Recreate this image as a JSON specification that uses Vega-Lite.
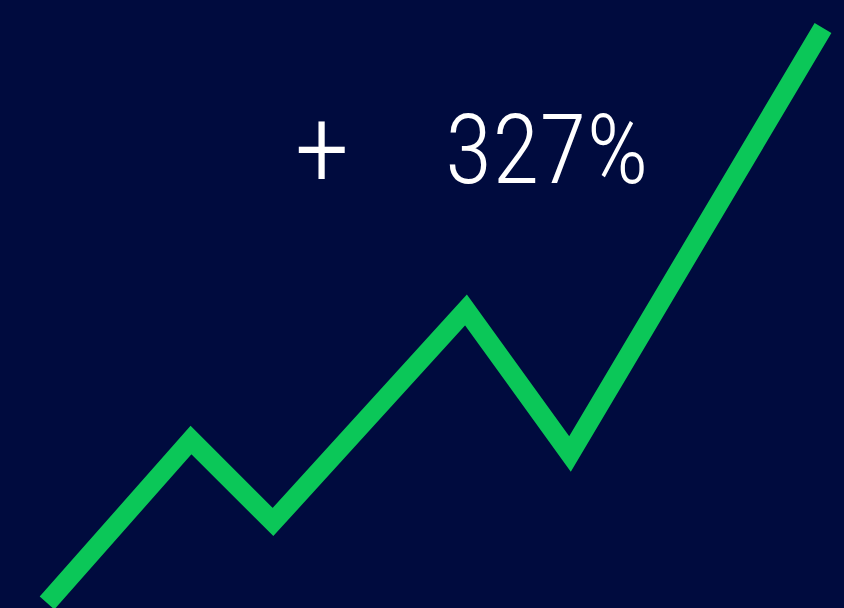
{
  "$schema": "https://vega.github.io/schema/vega-lite/v6.json",
  "width": 844,
  "height": 608,
  "autosize": "none",
  "padding": 0,
  "background": "#000B3E",
  "config": {"view": {"stroke": null}},
  "layer": [
    {
      "data": {"values": [
        {"i": 0, "x": 47, "y": 5},
        {"i": 1, "x": 191, "y": 168},
        {"i": 2, "x": 273, "y": 86},
        {"i": 3, "x": 466, "y": 298},
        {"i": 4, "x": 570, "y": 154},
        {"i": 5, "x": 823, "y": 580}
      ]},
      "mark": {"type": "line", "color": "#0BC758", "strokeWidth": 19.5, "strokeCap": "butt", "strokeJoin": "miter", "clip": false},
      "encoding": {
        "x": {"field": "x", "type": "quantitative", "scale": {"domain": [0, 844], "nice": false, "zero": false}, "axis": null},
        "y": {"field": "y", "type": "quantitative", "scale": {"domain": [0, 608], "nice": false, "zero": false}, "axis": null},
        "order": {"field": "i"}
      }
    },
    {
      "data": {"values": [
        {"label": "+", "x": 322, "y": 421}
      ]},
      "mark": {"type": "text", "color": "#FFFFFF", "font": "'Noto Sans ExtraCondensed', 'Noto Sans Condensed', 'Roboto Condensed', 'Open Sans Condensed', 'DejaVu Sans Condensed'", "fontSize": 112, "fontWeight": 300, "align": "center", "baseline": "alphabetic"},
      "encoding": {
        "x": {"field": "x", "type": "quantitative", "scale": {"domain": [0, 844], "nice": false, "zero": false}, "axis": null},
        "y": {"field": "y", "type": "quantitative", "scale": {"domain": [0, 608], "nice": false, "zero": false}, "axis": null},
        "text": {"field": "label"}
      }
    },
    {
      "data": {"values": [
        {"label": "327%", "x": 445, "y": 425}
      ]},
      "mark": {"type": "text", "color": "#FFFFFF", "font": "'Noto Sans ExtraCondensed', 'Noto Sans Condensed', 'Roboto Condensed', 'Open Sans Condensed', 'DejaVu Sans Condensed'", "fontSize": 97, "fontWeight": 300, "align": "left", "baseline": "alphabetic"},
      "encoding": {
        "x": {"field": "x", "type": "quantitative", "scale": {"domain": [0, 844], "nice": false, "zero": false}, "axis": null},
        "y": {"field": "y", "type": "quantitative", "scale": {"domain": [0, 608], "nice": false, "zero": false}, "axis": null},
        "text": {"field": "label"}
      }
    }
  ]
}
